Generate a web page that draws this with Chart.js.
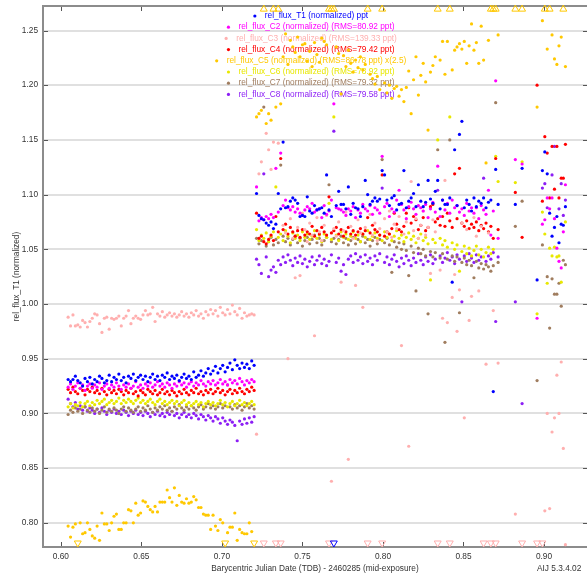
<!DOCTYPE html>
<html><head><meta charset="utf-8">
<script src="https://cdn.jsdelivr.net/npm/chart.js@4.4.1/dist/chart.umd.min.js"></script>
<style>html,body{margin:0;padding:0;background:#fff;overflow:hidden}canvas{display:block}</style>
</head><body>
<canvas id="c" width="587" height="577"></canvas>
<script>
// ---------- axis ticks ----------
const xTickValues = [0.60,0.65,0.70,0.75,0.80,0.85,0.90];
const yTickValues = [0.80,0.85,0.90,0.95,1.00,1.05,1.10,1.15,1.20,1.25];
const X_MIN = 0.5889, X_MAX = 0.9267, Y_MIN = 0.7779, Y_MAX = 1.2724;

// ---------- time stamps (BJD_TDB - 2460285) ----------
const times = [
0.6045,0.6060,0.6075,0.6090,0.6105,0.6120,0.6135,0.6150,0.6165,0.6180,
0.6195,0.6210,0.6225,0.6240,0.6255,0.6270,0.6285,0.6300,0.6315,0.6330,
0.6345,0.6360,0.6375,0.6390,0.6405,0.6420,0.6435,0.6450,0.6465,0.6480,
0.6495,0.6510,0.6525,0.6540,0.6555,0.6570,0.6585,0.6600,0.6615,0.6630,
0.6645,0.6660,0.6675,0.6690,0.6705,0.6720,0.6735,0.6750,0.6765,0.6780,
0.6795,0.6810,0.6825,0.6840,0.6855,0.6870,0.6885,0.6900,0.6915,0.6930,
0.6945,0.6960,0.6975,0.6990,0.7005,0.7020,0.7035,0.7050,0.7065,0.7080,
0.7095,0.7110,0.7125,0.7140,0.7155,0.7170,0.7185,0.7200,
0.7215,0.7230,0.7245,0.7260,0.7275,0.7290,0.7305,0.7320,0.7335,0.7350,
0.7365,0.7380,0.7395,0.7410,0.7425,0.7440,0.7455,0.7470,0.7485,0.7500,
0.7515,0.7530,0.7545,0.7560,0.7575,0.7590,0.7605,0.7620,0.7635,0.7650,
0.7665,0.7680,0.7695,0.7710,0.7725,0.7740,0.7755,0.7770,0.7785,0.7800,
0.7815,0.7830,0.7845,0.7860,0.7875,0.7890,0.7905,0.7920,0.7935,0.7950,
0.7965,0.7980,0.7995,0.8010,0.8025,0.8040,0.8055,0.8070,0.8085,0.8100,
0.8115,0.8130,0.8145,0.8160,0.8175,0.8190,0.8205,0.8220,0.8235,0.8250,
0.8265,0.8280,0.8295,0.8310,0.8325,0.8340,0.8355,0.8370,0.8385,0.8400,
0.8415,0.8430,0.8445,0.8460,0.8475,0.8490,0.8505,0.8520,0.8535,0.8550,
0.8565,0.8580,0.8595,0.8610,0.8625,0.8640,0.8655,0.8670,0.8685,0.8700,
0.8715,
0.8822,0.8864,
0.8957,0.8990,0.9005,0.9020,0.9035,0.9050,0.9065,0.9080,0.9093,0.9107,0.9120,0.9133
];

// ---------- series values (normalized flux, as plotted) ----------
const fluxT1 = [
0.931,0.929,0.931,0.934,0.930,0.928,0.925,0.932,0.929,0.933,
0.927,0.931,0.929,0.934,0.932,0.928,0.930,0.935,0.929,0.933,
0.931,0.936,0.930,0.933,0.928,0.934,0.932,0.936,0.930,0.933,
0.935,0.931,0.934,0.929,0.933,0.936,0.931,0.934,0.930,0.935,
0.933,0.937,0.931,0.934,0.932,0.935,0.930,0.933,0.936,0.932,
0.934,0.931,0.938,0.933,0.935,0.939,0.934,0.937,0.941,0.936,
0.939,0.943,0.937,0.941,0.944,0.938,0.942,0.946,0.940,0.949,
0.944,0.941,0.946,0.942,0.945,0.941,0.948,0.944,
1.101,1.081,1.078,1.077,1.074,1.072,1.075,1.069,1.073,1.101,
1.087,1.148,1.088,1.089,1.094,1.097,1.095,1.092,1.080,1.081,
1.080,1.098,1.085,1.083,1.090,1.086,1.087,1.088,1.083,1.118,
1.086,1.080,0.760,1.090,1.103,1.091,1.091,1.087,1.107,1.082,
1.092,1.088,1.087,1.080,1.089,1.113,1.100,1.091,1.094,1.097,
1.094,1.096,1.122,1.118,1.095,1.090,1.097,1.099,1.086,1.091,
1.092,1.122,1.088,1.094,1.097,1.101,1.089,1.109,1.094,1.089,
1.093,1.113,1.096,1.092,1.103,1.113,1.087,1.095,1.091,1.091,
1.097,1.020,1.141,1.090,1.155,1.167,1.088,1.095,1.091,1.085,
1.097,1.089,1.094,1.092,1.097,1.088,1.093,1.095,0.920,1.123,
1.091,
1.091,1.124,
1.022,1.122,1.139,1.119,1.083,1.062,1.070,1.080,1.056,1.073,1.072,1.089
];
const fluxC2 = [
0.924,0.927,0.922,0.925,0.928,0.923,0.926,0.921,0.925,0.927,
0.923,0.926,0.924,0.928,0.922,0.925,0.927,0.923,0.926,0.924,
0.928,0.925,0.922,0.926,0.924,0.927,0.923,0.925,0.929,0.924,
0.926,0.923,0.927,0.925,0.928,0.924,0.926,0.929,0.925,0.927,
0.924,0.928,0.926,0.923,0.927,0.925,0.929,0.926,0.928,0.924,
0.927,0.929,0.925,0.928,0.926,0.930,0.927,0.925,0.929,0.927,
0.930,0.926,0.928,0.931,0.927,0.929,0.926,0.931,0.928,0.930,
0.927,0.932,0.929,0.926,0.930,0.928,0.931,0.929,
1.107,1.076,1.079,1.077,1.080,1.078,1.082,1.079,1.124,1.084,
1.138,1.090,1.095,1.088,1.086,1.089,1.084,1.087,1.083,1.081,
1.086,1.089,1.087,1.092,1.084,1.086,1.087,1.079,1.090,1.082,
1.085,1.095,1.183,1.088,1.087,1.086,1.084,1.081,1.087,1.085,
1.089,1.079,1.086,1.083,1.091,1.087,1.085,1.090,1.082,1.088,
1.086,1.083,1.135,1.089,1.092,1.080,1.087,1.084,1.095,1.104,
1.091,1.086,1.078,1.089,1.093,1.087,1.082,1.090,1.088,1.085,
1.091,1.079,1.087,1.093,1.084,1.126,1.080,1.095,1.086,1.092,
1.083,1.095,1.088,1.090,1.084,1.087,1.081,1.092,1.085,1.088,
1.083,1.088,1.078,1.090,1.086,1.082,1.104,1.063,1.085,1.204,
1.060,
1.132,1.128,
0.987,1.073,1.077,1.097,1.087,1.097,1.078,1.051,1.039,1.033,1.066,1.109
];
const fluxC3 = [
0.988,0.980,0.990,0.980,0.981,0.979,0.985,0.983,0.979,0.984,
0.987,0.991,0.990,0.982,0.974,0.987,0.988,0.977,0.987,0.986,
0.987,0.989,0.980,0.987,0.989,0.994,0.982,0.987,0.989,0.987,
0.986,0.990,0.994,0.990,0.991,0.997,0.984,0.991,0.989,0.993,
0.988,0.990,0.992,0.989,0.991,0.988,0.990,0.993,0.989,0.991,
0.988,0.992,0.990,0.994,0.989,0.991,0.987,0.993,0.990,0.995,
0.991,0.994,0.989,0.997,0.992,0.990,0.995,0.991,0.999,0.993,
0.990,0.996,0.987,0.992,0.989,0.990,0.991,0.990,
0.881,1.119,1.130,0.760,1.156,1.141,1.123,1.148,0.760,1.147,
0.760,1.072,1.065,0.950,1.078,1.060,1.024,1.070,1.026,1.083,
1.068,1.057,1.074,1.063,0.971,1.079,1.066,1.058,1.072,1.081,
0.760,0.838,1.069,1.062,1.075,1.020,1.067,1.084,0.858,1.071,
1.060,1.017,1.077,1.065,0.997,1.070,0.760,1.082,1.063,1.074,
1.058,1.069,0.760,1.078,1.066,1.085,1.061,1.073,1.069,1.080,
0.962,1.064,1.075,0.870,1.112,1.067,1.078,1.060,1.072,1.085,
1.063,1.070,1.028,1.077,1.066,0.760,1.031,0.987,1.113,0.983,
0.760,1.006,1.027,0.975,1.013,1.074,0.896,1.068,0.985,1.007,
1.079,1.062,1.012,1.071,0.760,0.945,1.065,0.760,0.994,0.760,
0.946,
0.808,0.760,
0.760,0.760,0.811,0.900,0.813,0.883,0.896,0.935,0.900,0.947,0.868,0.780
];
const fluxC4 = [
0.922,0.919,0.924,0.920,0.918,0.923,0.921,0.917,0.922,0.920,
0.924,0.919,0.921,0.918,0.923,0.920,0.917,0.922,0.919,0.921,
0.918,0.922,0.920,0.917,0.921,0.919,0.923,0.918,0.920,0.916,
0.921,0.919,0.917,0.922,0.920,0.918,0.921,0.917,0.919,0.922,
0.918,0.920,0.917,0.921,0.919,0.916,0.920,0.918,0.922,0.919,
0.917,0.921,0.919,0.923,0.918,0.920,0.917,0.921,0.919,0.922,
0.918,0.920,0.923,0.919,0.921,0.917,0.920,0.922,0.918,0.921,
0.919,0.923,0.920,0.918,0.922,0.920,0.924,0.921,
1.083,1.060,1.062,1.057,1.055,1.059,1.063,1.058,1.080,1.066,
1.133,1.068,1.073,1.064,1.070,1.066,1.062,1.067,1.061,1.068,
1.063,1.066,1.064,1.071,1.062,1.067,1.064,1.070,1.066,1.063,
1.098,1.065,1.067,1.070,1.064,1.068,1.062,1.066,1.070,1.064,
1.067,1.063,1.066,1.069,1.064,1.067,1.079,1.065,1.072,1.068,
1.066,1.063,1.118,1.062,1.066,1.064,1.069,1.083,1.073,1.068,
1.066,1.071,1.083,1.088,1.074,1.080,1.077,1.068,1.072,1.079,
1.067,1.070,1.089,1.091,1.075,1.078,1.072,1.080,1.071,1.083,
1.076,1.070,1.119,1.078,1.124,1.074,1.071,1.076,1.069,1.073,
1.070,1.075,1.067,1.072,1.069,1.074,1.066,1.071,1.060,1.133,
1.068,
1.102,1.061,
1.200,1.094,1.153,1.138,1.097,1.144,1.105,1.144,1.097,1.115,1.115,1.146
];
const fluxC5 = [
0.797,0.787,0.796,0.799,0.760,0.800,0.790,0.791,0.800,0.794,
0.788,0.786,0.797,0.784,0.809,0.799,0.799,0.793,0.800,0.806,
0.808,0.794,0.794,0.800,0.800,0.812,0.811,0.800,0.818,0.807,
0.809,0.820,0.819,0.815,0.812,0.810,0.815,0.810,0.819,0.819,
0.819,0.830,0.823,0.819,0.832,0.816,0.825,0.819,0.818,0.822,
0.818,0.819,0.824,0.821,0.814,0.814,0.808,0.807,0.807,0.794,
0.807,0.797,0.793,0.803,0.800,0.760,0.791,0.796,0.796,0.809,
0.784,0.794,0.791,0.790,0.790,0.800,0.792,0.760,
1.171,1.174,1.177,1.300,1.165,1.174,1.168,1.300,1.180,1.300,
1.183,1.226,1.247,1.219,1.241,1.235,1.230,1.244,1.226,1.237,
1.238,1.222,1.231,1.217,1.239,1.228,1.221,1.243,1.240,1.237,
1.300,1.300,1.300,1.235,1.229,1.192,1.227,1.217,1.232,1.220,
1.212,1.223,1.216,1.226,1.214,1.219,1.300,1.210,1.206,1.201,
1.208,1.196,1.300,1.202,1.193,1.200,1.188,1.197,1.199,1.190,
1.196,1.185,1.198,1.213,1.174,1.205,1.226,1.191,1.209,1.220,
1.203,1.159,1.212,1.218,1.226,1.300,1.223,1.240,1.210,1.240,
1.300,1.214,1.232,1.235,1.238,1.233,1.240,1.220,1.236,1.256,
1.232,1.239,1.220,1.254,1.223,1.129,1.241,1.300,1.300,1.300,
1.246,
1.300,1.300,
1.180,1.259,1.300,1.233,1.300,1.246,1.224,1.219,1.236,1.244,1.300,1.217
];
const fluxC6 = [
0.906,0.909,0.905,0.908,0.907,0.910,0.906,0.909,0.911,0.907,
0.910,0.908,0.912,0.909,0.911,0.913,0.908,0.910,0.912,0.909,
0.911,0.914,0.909,0.912,0.910,0.913,0.911,0.909,0.912,0.914,
0.910,0.912,0.909,0.911,0.913,0.910,0.908,0.911,0.913,0.909,
0.911,0.908,0.910,0.912,0.909,0.911,0.907,0.910,0.912,0.908,
0.910,0.907,0.909,0.911,0.908,0.910,0.906,0.909,0.911,0.908,
0.910,0.907,0.909,0.912,0.908,0.910,0.906,0.909,0.911,0.907,
0.909,0.912,0.908,0.910,0.907,0.909,0.911,0.908,
1.068,1.058,1.063,1.060,1.065,1.057,1.062,1.066,1.107,1.061,
1.064,1.058,1.067,1.062,1.056,1.065,1.060,1.063,1.058,1.066,
1.061,1.064,1.059,1.062,1.067,1.060,1.063,1.057,1.064,1.061,
1.092,1.059,1.171,1.063,1.058,1.066,1.061,1.064,1.059,1.062,
1.066,1.060,1.063,1.057,1.064,1.061,1.067,1.059,1.062,1.065,
1.060,1.063,1.058,1.066,1.061,1.064,1.058,1.062,1.067,1.060,
1.063,1.057,1.061,1.065,1.059,1.062,1.056,1.060,1.064,1.058,
1.061,1.055,1.022,1.059,1.056,1.150,1.060,1.054,1.058,1.052,
1.171,1.056,1.050,1.054,1.030,1.048,1.053,1.046,1.051,1.044,
1.049,1.053,1.045,1.050,1.043,1.047,1.052,1.046,1.050,1.135,
1.112,
1.111,1.130,
0.991,1.084,1.064,1.019,1.051,1.044,1.052,1.043,1.044,1.020,null,1.075
];
const fluxC7 = [
0.899,0.903,0.901,0.905,0.902,0.904,0.900,0.906,0.903,0.901,
0.905,0.902,0.904,0.900,0.903,0.906,0.901,0.904,0.902,0.905,
0.903,0.900,0.904,0.906,0.902,0.905,0.903,0.901,0.904,0.906,
0.902,0.905,0.903,0.907,0.904,0.901,0.905,0.903,0.906,0.904,
0.907,0.903,0.905,0.902,0.906,0.904,0.908,0.905,0.903,0.906,
0.904,0.907,0.905,0.903,0.906,0.908,0.904,0.906,0.909,0.905,
0.907,0.904,0.906,0.909,0.905,0.907,0.926,0.906,0.904,0.908,
0.905,0.907,0.903,0.906,0.909,0.905,0.907,0.904,
1.060,1.055,1.058,1.180,1.053,1.057,1.061,1.054,1.059,1.056,
1.127,1.062,1.057,1.060,1.054,1.059,1.062,1.056,1.060,1.053,
1.058,1.061,1.055,1.059,1.063,1.056,1.060,1.054,1.058,1.061,
1.109,1.057,1.060,1.055,1.059,1.062,1.056,1.060,1.054,1.058,
1.061,1.055,1.059,1.057,1.062,1.056,1.059,1.053,1.058,1.061,
1.055,1.059,1.132,1.056,1.060,1.054,1.029,1.057,1.052,1.056,
1.050,1.055,1.049,1.026,1.053,1.047,1.012,1.051,1.046,1.050,
1.044,0.991,1.048,1.043,1.047,1.141,1.042,1.046,0.965,1.041,
1.150,1.044,1.039,1.043,0.992,1.038,1.042,1.036,1.040,1.035,
1.024,1.039,1.033,1.037,1.032,1.036,1.034,1.030,1.035,1.184,
1.038,
1.071,1.094,
0.930,1.054,null,1.025,0.978,1.023,1.009,1.009,1.019,0.998,1.040,1.036
];
const fluxC8 = [
0.913,0.909,0.906,0.910,0.904,0.907,0.903,0.906,0.902,0.905,
0.903,0.900,0.904,0.901,0.905,0.902,0.899,0.903,0.901,0.904,
0.900,0.902,0.899,0.903,0.901,0.898,0.902,0.900,0.903,0.899,
0.901,0.898,0.902,0.900,0.897,0.901,0.899,0.902,0.898,0.900,
0.897,0.901,0.899,0.902,0.898,0.900,0.896,0.899,0.901,0.897,
0.899,0.896,0.900,0.898,0.895,0.899,0.897,0.894,0.898,0.896,
0.893,0.897,0.895,0.891,0.896,0.893,0.890,0.894,0.892,0.889,
0.875,0.893,0.890,0.895,0.891,0.896,0.892,0.897,
1.041,1.036,1.028,1.119,1.043,1.025,1.031,1.034,1.029,1.040,
1.036,1.043,1.038,1.045,1.040,1.035,1.042,1.038,1.044,1.037,
1.041,1.034,1.039,1.043,1.036,1.040,1.044,1.037,1.041,1.035,
1.039,1.045,1.158,1.038,1.042,1.030,1.036,1.027,1.041,1.044,
1.038,1.046,1.040,1.043,1.037,1.045,1.039,1.042,1.036,1.044,
1.040,1.046,1.106,1.038,1.043,1.036,1.041,1.045,1.039,1.034,
1.042,1.037,1.044,1.040,1.035,1.042,1.038,1.046,1.040,1.036,
1.043,1.039,1.045,1.037,1.041,1.104,1.044,1.038,1.042,1.047,
1.040,1.043,1.037,1.045,1.041,1.002,1.044,1.039,1.046,1.042,
1.038,1.045,1.040,1.043,1.115,1.039,1.044,1.041,1.047,0.984,
1.043,
1.002,0.909,
null,1.106,1.110,1.088,null,1.118,1.144,null,1.087,1.110,1.081,1.095
];

const seriesLabels = [
  'rel_flux_T1 (normalized) ppt',
  'rel_flux_C2 (normalized) (RMS=80.92 ppt)',
  'rel_flux_C3 (normalized) (RMS=139.33 ppt)',
  'rel_flux_C4 (normalized) (RMS=79.42 ppt)',
  'rel_flux_C5 (normalized) (RMS=86.78 ppt) x(2.5)',
  'rel_flux_C6 (normalized) (RMS=78.92 ppt)',
  'rel_flux_C7 (normalized) (RMS=79.32 ppt)',
  'rel_flux_C8 (normalized) (RMS=79.58 ppt)'
];
const seriesColors = ['#0000ff','#ff00ff','#ffafaf','#ff0000','#ffc800','#e8e800','#a07d5f','#8c1ef5'];
const seriesValues = [fluxT1, fluxC2, fluxC3, fluxC4, fluxC5, fluxC6, fluxC7, fluxC8];

// ---------- build datasets ----------
const FONT = '"Liberation Sans", Arial, sans-serif';
const FS = 8.3;
const topEdge = Y_MAX - (Y_MAX - Y_MIN) * 0.0058;
const botEdge = Y_MIN + (Y_MAX - Y_MIN) * 0.0074;
const markerSets = [], pointSets = [];
seriesValues.forEach((vals, s) => {
  const pts = [], hi = [], lo = [];
  vals.forEach((v, k) => {
    if (v === null) return;
    if (v > Y_MAX) hi.push({x: times[k], y: topEdge});
    else if (v < Y_MIN) lo.push({x: times[k], y: botEdge});
    else pts.push({x: times[k], y: v});
  });
  pointSets.push({label: seriesLabels[s], data: pts, pointRadius: 1.6, pointHoverRadius: 1.6,
    pointBackgroundColor: seriesColors[s], pointBorderWidth: 0, showLine: false});
  if (hi.length) markerSets.push({label: seriesLabels[s] + ' high', data: hi, pointStyle: 'triangle',
    pointRotation: 0, pointRadius: 4, pointBorderColor: seriesColors[s], pointBorderWidth: 1,
    pointBackgroundColor: 'rgba(0,0,0,0)', showLine: false, clip: false});
  if (lo.length) markerSets.push({label: seriesLabels[s] + ' low', data: lo, pointStyle: 'triangle',
    pointRotation: 180, pointRadius: 4, pointBorderColor: seriesColors[s], pointBorderWidth: 1,
    pointBackgroundColor: 'rgba(0,0,0,0)', showLine: false, clip: false});
});

const framePlugin = {
  id: 'frame',
  beforeDatasetsDraw(chart) {
    const {ctx, chartArea: a, scales: {x, y}} = chart;
    ctx.save();
    // tick marks (inward)
    ctx.strokeStyle = '#555'; ctx.lineWidth = 1;
    ctx.beginPath();
    x.ticks.forEach(t => {
      const px = Math.round(x.getPixelForValue(t.value)) + 0.5;
      ctx.moveTo(px, a.bottom); ctx.lineTo(px, a.bottom - 5);
      ctx.moveTo(px, a.top); ctx.lineTo(px, a.top + 5);
    });
    y.ticks.forEach(t => {
      const py = Math.round(y.getPixelForValue(t.value)) + 0.5;
      ctx.moveTo(a.left, py); ctx.lineTo(a.left + 5, py);
      ctx.moveTo(a.right, py); ctx.lineTo(a.right - 4, py);
    });
    ctx.stroke();
    // frame
    ctx.strokeStyle = '#8c8c8c'; ctx.lineWidth = 2;
    ctx.beginPath();
    ctx.moveTo(a.right + 3, a.top); ctx.lineTo(a.left, a.top);
    ctx.lineTo(a.left, a.bottom); ctx.lineTo(a.right + 3, a.bottom);
    ctx.stroke();
    // legend
    ctx.font = FS + 'px ' + FONT;
    ctx.textBaseline = 'middle';
    seriesLabels.forEach((lab, i) => {
      const yy = 16 + 11.2 * i;
      const w = ctx.measureText(lab).width;
      const left = 316.5 - w / 2;
      ctx.fillStyle = seriesColors[i];
      ctx.fillText(lab, left, yy);
      ctx.beginPath(); ctx.arc(left - 10, yy, 1.6, 0, Math.PI * 2); ctx.fill();
    });
    ctx.restore();
  },
  afterDraw(chart) {
    const ctx = chart.ctx;
    ctx.save();
    ctx.font = FS + 'px ' + FONT;
    ctx.fillStyle = '#333';
    ctx.textBaseline = 'middle';
    ctx.fillText('AIJ 5.3.4.02', 537, 569);
    ctx.restore();
  }
};

new Chart(document.getElementById('c'), {
  type: 'scatter',
  data: {datasets: [...markerSets, ...pointSets]},
  options: {
    responsive: false, animation: false, devicePixelRatio: 1,
    layout: {autoPadding: false, padding: {top: 6, left: 0, right: 0, bottom: 0}},
    plugins: {legend: {display: false}, tooltip: {enabled: false}},
    scales: {
      x: {
        type: 'linear', min: X_MIN, max: X_MAX,
        afterBuildTicks: s => { s.ticks = xTickValues.map(v => ({value: v})); },
        afterFit: s => { s.height = 30; s.paddingLeft = 0; s.paddingRight = 0; },
        grid: {display: false, drawTicks: false},
        border: {display: false},
        ticks: {padding: 5, color: '#333', font: {family: FONT, size: FS}, callback: v => Number(v).toFixed(2), maxRotation: 0},
        title: {display: true, text: 'Barycentric Julian Date (TDB) - 2460285 (mid-exposure)', color: '#333',
          font: {family: FONT, size: FS}, padding: {top: 0, bottom: 3}}
      },
      y: {
        type: 'linear', min: Y_MIN, max: Y_MAX,
        afterBuildTicks: s => { s.ticks = yTickValues.map(v => ({value: v})); },
        afterFit: s => { s.width = 43; s.paddingTop = 0; s.paddingBottom = 0; },
        grid: {color: '#e0e0e0', lineWidth: 2, drawTicks: false},
        border: {display: false},
        ticks: {padding: 5, color: '#333', font: {family: FONT, size: FS}, callback: v => Number(v).toFixed(2)},
        title: {display: true, text: 'rel_flux_T1 (normalized)', color: '#333',
          font: {family: FONT, size: FS}, padding: {top: 12, bottom: 0}}
      }
    }
  },
  plugins: [framePlugin]
});
</script>
</body></html>
